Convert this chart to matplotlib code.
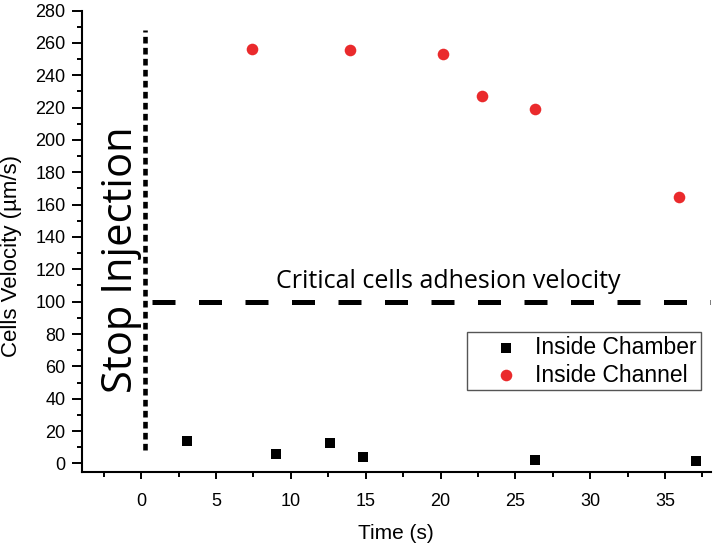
import matplotlib
matplotlib.use("Agg")
import matplotlib.pyplot as plt
from matplotlib.ticker import MultipleLocator

# ---- data ----
chamber_time = [3.05, 9.04, 12.63, 14.83, 26.34, 37.05]
chamber_velocity = [14.1, 5.9, 12.5, 3.8, 2.0, 1.7]
channel_time = [7.41, 13.96, 20.15, 22.8, 26.34, 35.92]
channel_velocity = [256.4, 255.8, 253.1, 227.3, 219.1, 164.9]
stop_time = 0.27
stop_range = [8.3, 268.0]
critical_velocity = 100
critical_start = 0.71
series_labels = ["Inside Chamber", "Inside Channel"]
x_label = "Time (s)"
y_label = "Cells Velocity (µm/s)"
stop_text = "Stop Injection"
critical_text = "Critical cells adhesion velocity"

W, H = 717, 547
fig = plt.figure(figsize=(W / 100, H / 100), dpi=100)
left, right, bottom, top = 81.7, 710.7, 472.0, 10.5
ax = fig.add_axes([left / W, 1 - bottom / H, (right - left) / W, (bottom - top) / H])

ax.set_xlim(-3.97, 38.05)
ax.set_ylim(-5.3, 280)

for s in ["top", "right"]:
    ax.spines[s].set_visible(False)
for s in ["left", "bottom"]:
    ax.spines[s].set_linewidth(1.5)

ax.xaxis.set_major_locator(MultipleLocator(5))
ax.xaxis.set_minor_locator(MultipleLocator(2.5))
ax.yaxis.set_major_locator(MultipleLocator(20))
ax.yaxis.set_minor_locator(MultipleLocator(10))
ax.tick_params(axis="y", which="major", direction="out", length=7, width=1.4, pad=4.5)
ax.tick_params(axis="y", which="minor", direction="out", length=3.6, width=1.4)
ax.tick_params(axis="x", which="major", direction="out", length=5, width=1.4, pad=10)
ax.tick_params(axis="x", which="minor", direction="out", length=3.6, width=1.4)

for lab in ax.get_xticklabels() + ax.get_yticklabels():
    lab.set_fontfamily("Liberation Sans")
    lab.set_fontsize(13)

ax.scatter(chamber_time, chamber_velocity, marker="s", s=52, color="black",
           linewidths=0, label=series_labels[0], zorder=3)
ax.scatter(channel_time, channel_velocity, marker="o", s=70, color="#EA2A2C",
           linewidths=0, label=series_labels[1], zorder=3)

ax.plot([stop_time, stop_time], stop_range, color="black", lw=3.3,
        linestyle=(0, (1.45, 0.95)), zorder=2)
ax.plot([critical_start, 38.05], [critical_velocity, critical_velocity], color="black",
        lw=3.6, linestyle=(0, (4.6, 4.7)), zorder=2)

ax.text(-0.62, 125.8, stop_text, rotation=90, rotation_mode="anchor",
        ha="center", va="baseline", fontsize=30, fontfamily="Open Sans")
ax.text(9.0, 108.5, critical_text, ha="left", va="baseline",
        fontsize=18, fontfamily="Open Sans")

ax.set_xlabel(x_label, fontsize=15, fontfamily="Liberation Sans")
ax.set_ylabel(y_label, fontsize=16, fontfamily="Liberation Sans")
ax.xaxis.set_label_coords(0.5, -0.113)
ax.yaxis.set_label_coords(-0.0946, 0.467)

leg = ax.legend(loc="upper left", bbox_to_anchor=(0.6126, 0.3038), borderaxespad=0,
                frameon=True, fancybox=False, edgecolor="#555555", framealpha=1,
                prop={"family": "Liberation Sans", "size": 16.5}, handletextpad=-0.26,
                handlelength=3.06, borderpad=0.17, labelspacing=0.21, scatterpoints=1)
leg.get_frame().set_linewidth(1.0)

fig.savefig("out.png", dpi=100)
